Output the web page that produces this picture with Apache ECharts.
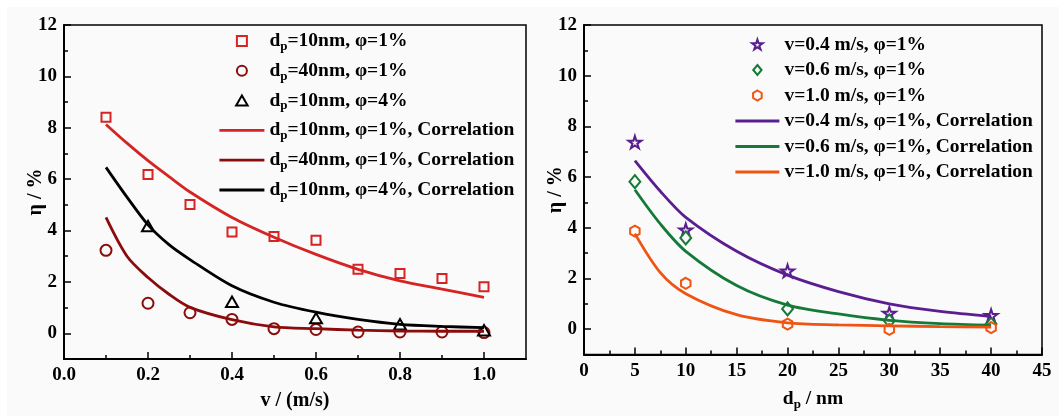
<!DOCTYPE html>
<html>
<head>
<meta charset="utf-8">
<script src="https://cdn.jsdelivr.net/npm/echarts@6/dist/echarts.min.js"></script>
<style>
html,body{margin:0;padding:0;background:#fff;}
#chart{position:absolute;left:0;top:0;width:1059px;height:416px;}
</style>
</head>
<body>
<div id="chart"></div>
<script>
// left panel: eta vs velocity
var vVals = [0.1, 0.2, 0.3, 0.4, 0.5, 0.6, 0.7, 0.8, 0.9, 1.0];
var eta10nm1 = [8.41, 6.18, 5.01, 3.94, 3.77, 3.62, 2.49, 2.33, 2.13, 1.81];
var eta40nm1 = [3.23, 1.17, 0.80, 0.54, 0.18, 0.15, 0.05, 0.05, 0.05, 0.03];
var vTri = [0.2, 0.4, 0.6, 0.8, 1.0];
var eta10nm4 = [4.18, 1.23, 0.59, 0.35, 0.12];
var vFit = [0.1, 0.15, 0.2, 0.25, 0.3, 0.4, 0.5, 0.6, 0.7, 0.8, 0.9, 1.0];
var fit10nm1 = [8.13, 7.40, 6.72, 6.10, 5.50, 4.51, 3.74, 3.07, 2.49, 2.04, 1.72, 1.40];
var fit40nm1 = [4.51, 3.00, 2.17, 1.52, 1.01, 0.53, 0.25, 0.18, 0.12, 0.09, 0.08, 0.08];
var fit10nm4 = [6.46, 5.30, 4.22, 3.45, 2.87, 1.85, 1.21, 0.82, 0.54, 0.35, 0.27, 0.22];

// right panel: eta vs particle diameter
var dpVals = [5, 10, 20, 30, 40];
var etaV04 = [7.38, 3.92, 2.30, 0.63, 0.54];
var etaV06 = [5.82, 3.60, 0.80, 0.33, 0.20];
var etaV10 = [3.87, 1.81, 0.20, -0.01, 0.06];
var dpFit = [5, 7.5, 10, 15, 20, 25, 30, 35, 40];
var fitV04 = [6.65, 5.44, 4.41, 3.07, 2.13, 1.48, 1.00, 0.70, 0.50];
var fitV06 = [5.50, 4.15, 3.07, 1.72, 0.95, 0.60, 0.35, 0.22, 0.16];
var fitV10 = [3.77, 2.23, 1.40, 0.57, 0.25, 0.17, 0.13, 0.10, 0.08];

// tick labels
var yLabels = [0, 2, 4, 6, 8, 10, 12];
var yMinor = [-1, 1, 3, 5, 7, 9, 11];
var vLabels = [0, 0.2, 0.4, 0.6, 0.8, 1.0];
var vMinor = [0.1, 0.3, 0.5, 0.7, 0.9];
var dpLabels = [0, 5, 10, 15, 20, 25, 30, 35, 40, 45];
var dpMinor = [2.5, 7.5, 12.5, 17.5, 22.5, 27.5, 32.5, 37.5, 42.5];

var FONT = 'Liberation Serif';
var BG = '#fafafa';
var RED = '#d42424', DRED = '#8b0c0c', BLACK = '#000000';
var PURPLE = '#5a1e91', GREEN = '#157a38', ORANGE = '#ee5513';
// open marker shapes as paths so the legend keeps their aspect
var SQUARE = 'path://M0,0 L100,0 L100,100 L0,100 Z';
var TRI = 'path://M50,0 L100,87 L0,87 Z';
var DIAM = 'path://M50,0 L100,60 L50,120 L0,60 Z';
var STAR = 'path://M50,0 L61,35 L98,35 L68,57 L79,91 L50,70 L21,91 L32,57 L2,35 L39,35 Z';
var HEX = 'path://M50,0 L93,25 L93,75 L50,100 L7,75 L7,25 Z';

function pairs(xs, ys) {
    return xs.map(function (x, i) { return [x, ys[i]]; });
}

var chart = echarts.init(document.getElementById('chart'));

var labelStyle = {fontFamily: FONT, fontWeight: 'bold', fontSize: 19, color: '#000'};
var subRich = {
    b: {fontFamily: FONT, fontWeight: 'bold', fontSize: 19.5, color: '#000', lineHeight: 25},
    s: {fontFamily: FONT, fontWeight: 'bold', fontSize: 13, color: '#000', lineHeight: 14, padding: [11, 0, 0, 0]}
};

function majorAxis(grid, min, max, labels, fmt, pos) {
    return {
        type: 'value', gridIndex: grid, min: min, max: max, position: pos,
        axisLine: {show: true, onZero: false, lineStyle: {color: '#000', width: 2}},
        axisTick: {show: true, inside: true, length: 7, customValues: labels, lineStyle: {color: '#000', width: 1.5}},
        axisLabel: Object.assign({customValues: labels, formatter: fmt, margin: 7}, labelStyle),
        splitLine: {show: false}
    };
}
function minorAxis(grid, min, max, ticks, pos) {
    return {
        type: 'value', gridIndex: grid, min: min, max: max, position: pos,
        axisLine: {show: false, onZero: false},
        axisTick: {show: true, inside: true, length: 4, customValues: ticks, lineStyle: {color: '#000', width: 1.5}},
        axisLabel: {show: false},
        splitLine: {show: false}
    };
}

var xAxes = [
    majorAxis(0, 0, 1.1, vLabels, function (v) { return v.toFixed(1); }, 'bottom'),
    minorAxis(0, 0, 1.1, vMinor, 'bottom'),
    majorAxis(1, 0, 45, dpLabels, function (v) { return String(v); }, 'bottom'),
    minorAxis(1, 0, 45, dpMinor, 'bottom')
];
xAxes[0].name = 'v / (m/s)';
xAxes[2].name = '{b|d}{s|p}{b| / nm}';
[0, 2].forEach(function (i) {
    xAxes[i].nameLocation = 'middle';
    xAxes[i].nameGap = 32;
    xAxes[i].nameMoveOverlap = false;
    xAxes[i].nameTextStyle = {fontFamily: FONT, fontWeight: 'bold', fontSize: 20, color: '#000', rich: subRich};
});

var yAxes = [
    majorAxis(0, -1, 12, yLabels, function (v) { return String(v); }, 'left'),
    minorAxis(0, -1, 12, yMinor, 'left'),
    majorAxis(1, -1, 12, yLabels, function (v) { return String(v); }, 'left'),
    minorAxis(1, -1, 12, yMinor, 'left')
];
[0, 2].forEach(function (i) {
    yAxes[i].name = 'η / %';
    yAxes[i].nameLocation = 'middle';
    yAxes[i].nameGap = 18;
    yAxes[i].nameMoveOverlap = false;
    yAxes[i].nameTextStyle = {fontFamily: FONT, fontWeight: 'bold', fontSize: 20, color: '#000'};
});

function scatter(name, xi, yi, data, symbol, size, color) {
    return {
        name: name, type: 'scatter', xAxisIndex: xi, yAxisIndex: yi,
        data: data, symbol: symbol, symbolSize: size, symbolKeepAspect: true, z: 3,
        itemStyle: {color: BG, borderColor: color, borderWidth: 2, opacity: 1}
    };
}
function fitLine(name, xi, yi, data, color) {
    return {
        name: name, type: 'line', xAxisIndex: xi, yAxisIndex: yi,
        data: data, symbol: 'none', smooth: 0.3, z: 4,
        lineStyle: {color: color, width: 2.8}, itemStyle: {color: color, opacity: 0}
    };
}

var n1 = 'dp=10nm, φ=1%', n2 = 'dp=40nm, φ=1%', n3 = 'dp=10nm, φ=4%';
var m1 = 'v=0.4 m/s, φ=1%', m2 = 'v=0.6 m/s, φ=1%', m3 = 'v=1.0 m/s, φ=1%';

var option = {
    backgroundColor: '#fff',
    animation: false,
    graphic: [{type: 'rect', z: -10, silent: true, shape: {x: 7, y: 7, width: 1052, height: 409}, style: {fill: BG}}],
    grid: [
        {left: 64, top: 25, width: 462, height: 335, show: true, borderColor: '#000', borderWidth: 1.5, backgroundColor: 'transparent'},
        {left: 584, top: 25, width: 458, height: 335, show: true, borderColor: '#000', borderWidth: 1.5, backgroundColor: 'transparent'}
    ],
    legend: [{
        orient: 'vertical', left: 213, top: 24, itemWidth: 45, itemHeight: 10, itemGap: 5.8,
        symbolKeepAspect: true,
        lineStyle: {width: 2.8},
        data: [n1, n2, n3, n1 + ', Correlation', n2 + ', Correlation', n3 + ', Correlation'],
        formatter: function (name) { return '{b|d}{s|p}{b|' + name.slice(2) + '}'; },
        textStyle: {fontFamily: FONT, fontWeight: 'bold', fontSize: 19.5, color: '#000', rich: subRich}
    }, {
        orient: 'vertical', left: 729, top: 29, itemWidth: 44, itemHeight: 10, itemGap: 4.5,
        symbolKeepAspect: true,
        lineStyle: {width: 2.8},
        data: [m1, m2, m3, m1 + ', Correlation', m2 + ', Correlation', m3 + ', Correlation'],
        textStyle: {fontFamily: FONT, fontWeight: 'bold', fontSize: 19.5, color: '#000', lineHeight: 21}
    }],
    xAxis: xAxes,
    yAxis: yAxes,
    series: [
        scatter(n1, 0, 0, pairs(vVals, eta10nm1), SQUARE, 9, RED),
        scatter(n2, 0, 0, pairs(vVals, eta40nm1), 'circle', 11, DRED),
        scatter(n3, 0, 0, pairs(vTri, eta10nm4), TRI, 12, BLACK),
        fitLine(n1 + ', Correlation', 0, 0, pairs(vFit, fit10nm1), RED),
        fitLine(n2 + ', Correlation', 0, 0, pairs(vFit, fit40nm1), DRED),
        fitLine(n3 + ', Correlation', 0, 0, pairs(vFit, fit10nm4), BLACK),
        scatter(m1, 2, 2, pairs(dpVals, etaV04), STAR, 13, PURPLE),
        scatter(m2, 2, 2, pairs(dpVals, etaV06), DIAM, 13, GREEN),
        scatter(m3, 2, 2, pairs(dpVals, etaV10), HEX, 11, ORANGE),
        fitLine(m1 + ', Correlation', 2, 2, pairs(dpFit, fitV04), PURPLE),
        fitLine(m2 + ', Correlation', 2, 2, pairs(dpFit, fitV06), GREEN),
        fitLine(m3 + ', Correlation', 2, 2, pairs(dpFit, fitV10), ORANGE)
    ]
};
chart.setOption(option);
</script>
</body>
</html>
